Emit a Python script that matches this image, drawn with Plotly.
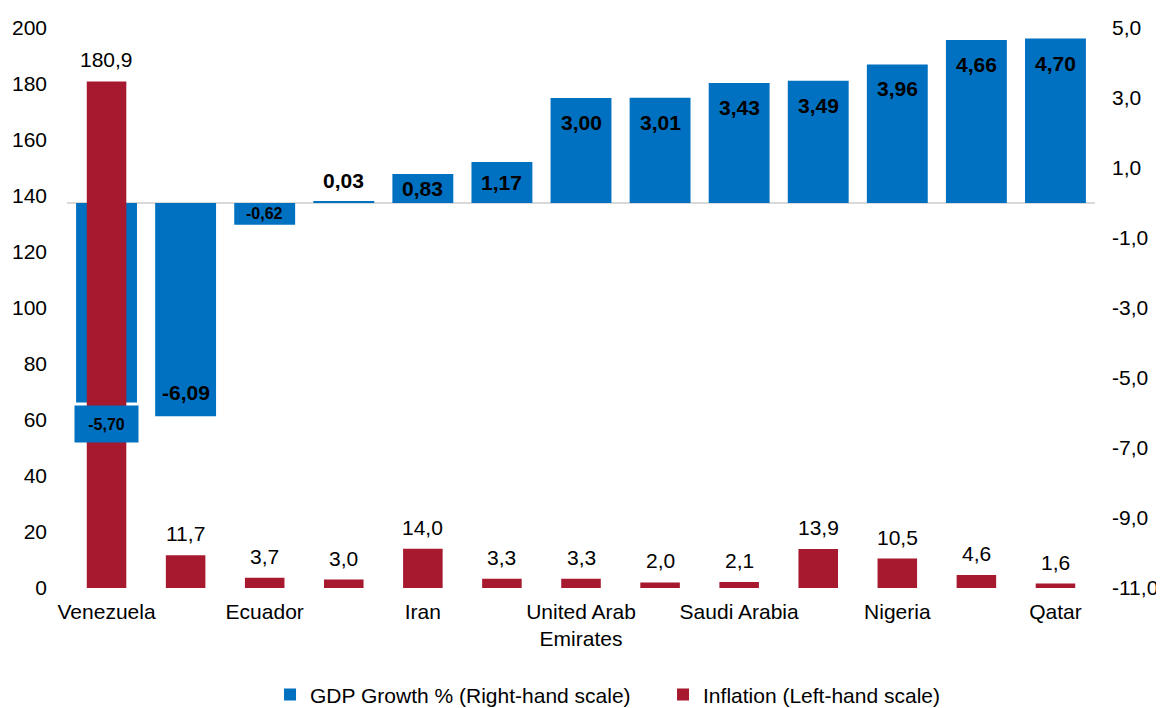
import plotly.graph_objects as go

# ---- data ----
countries = ["Venezuela", "Libya", "Ecuador", "Iraq", "Iran", "Kuwait",
             "United Arab Emirates", "Algeria", "Saudi Arabia", "Angola",
             "Nigeria", "Indonesia", "Qatar"]
gdp_growth = [-5.70, -6.09, -0.62, 0.03, 0.83, 1.17, 3.00, 3.01, 3.43, 3.49, 3.96, 4.66, 4.70]
inflation = [180.9, 11.7, 3.7, 3.0, 14.0, 3.3, 3.3, 2.0, 2.1, 13.9, 10.5, 4.6, 1.6]
shown_ticks = ["Venezuela", "Ecuador", "Iran", "United Arab Emirates",
               "Saudi Arabia", "Nigeria", "Qatar"]
shown_tick_text = ["Venezuela", "Ecuador", "Iran", "United Arab<br>Emirates",
                   "Saudi Arabia", "Nigeria", "Qatar"]
gdp_axis_ticks = [5, 3, 1, -1, -3, -5, -7, -9, -11]
infl_axis_ticks = [0, 20, 40, 60, 80, 100, 120, 140, 160, 180, 200]

BLUE = "#0070C0"
RED = "#A6192E"
FONT = "Liberation Sans, Arial, sans-serif"


def fmt(v, nd):
    return f"{v:.{nd}f}".replace(".", ",")


fig = go.Figure()
fig.add_trace(go.Bar(
    name="GDP Growth % (Right-hand scale)",
    x=countries, y=gdp_growth, yaxis="y",
    marker=dict(color=BLUE, line=dict(width=0)),
    width=0.77, cliponaxis=False,
))
fig.add_trace(go.Bar(
    name="Inflation (Left-hand scale)",
    x=countries, y=inflation, yaxis="y2",
    marker=dict(color=RED, line=dict(width=0)),
    width=0.5, cliponaxis=False,
))

# ---- data labels (styling rules kept separate from the data) ----
boxed_label_idx = 0            # Venezuela: boxed label under the bar end
small_label_idx = {0, 2}       # smaller label font
for i, (c, v) in enumerate(zip(countries, gdp_growth)):
    size = 16 if i in small_label_idx else 21
    txt = "<b>" + fmt(v, 2) + "</b>"
    common = dict(x=c, xref="x", yref="y", text=txt, showarrow=False,
                  font=dict(size=size, color="black", family=FONT))
    if i == boxed_label_idx:
        fig.add_annotation(y=v, yanchor="top", yshift=-2, bgcolor=BLUE,
                           width=59, height=32, borderpad=2, **common)
    elif abs(v) < 0.2:
        fig.add_annotation(y=v, yanchor="bottom", yshift=8, **common)
    elif abs(v) < 1.5:
        fig.add_annotation(y=v / 2, yanchor="middle", **common)
    elif v > 0:
        fig.add_annotation(y=v, yanchor="top", yshift=-11, **common)
    else:
        fig.add_annotation(y=v, yanchor="bottom", yshift=10, **common)

for c, v in zip(countries, inflation):
    fig.add_annotation(x=c, y=v, xref="x", yref="y2", yanchor="bottom",
                       yshift=8, text=fmt(v, 1), showarrow=False,
                       font=dict(size=21, color="black", family=FONT))

fig.update_layout(
    width=1156, height=700,
    paper_bgcolor="white", plot_bgcolor="white",
    font=dict(family=FONT, size=21, color="black"),
    separators=", ",
    barmode="overlay",
    margin=dict(l=59, r=69, t=20, b=120, autoexpand=False),
    xaxis=dict(
        type="category", tickmode="array",
        tickvals=shown_ticks, ticktext=shown_tick_text,
        showgrid=False, zeroline=False, showline=False, ticks="",
        ticklabelstandoff=9,
    ),
    yaxis=dict(
        side="right", range=[-11, 5], tickmode="array",
        tickvals=gdp_axis_ticks, ticktext=[fmt(t, 1) for t in gdp_axis_ticks],
        showgrid=False, zeroline=True, zerolinecolor="#D9D9D9", zerolinewidth=2,
        showline=False, ticks="", ticklabelstandoff=16,
    ),
    yaxis2=dict(
        side="left", overlaying="y", range=[0, 200], tickmode="array",
        tickvals=infl_axis_ticks, ticktext=[str(t) for t in infl_axis_ticks],
        showgrid=False, zeroline=False, showline=False, ticks="",
        ticklabelstandoff=19,
    ),
    showlegend=True,
    legend=dict(
        orientation="h", x=0.1975, xanchor="left",
        y=-0.191, yanchor="middle",
        entrywidth=348, entrywidthmode="pixels",
        font=dict(size=21, family=FONT, color="black"),
        bgcolor="rgba(0,0,0,0)", traceorder="normal",
    ),
)

fig.write_html("out.html")
